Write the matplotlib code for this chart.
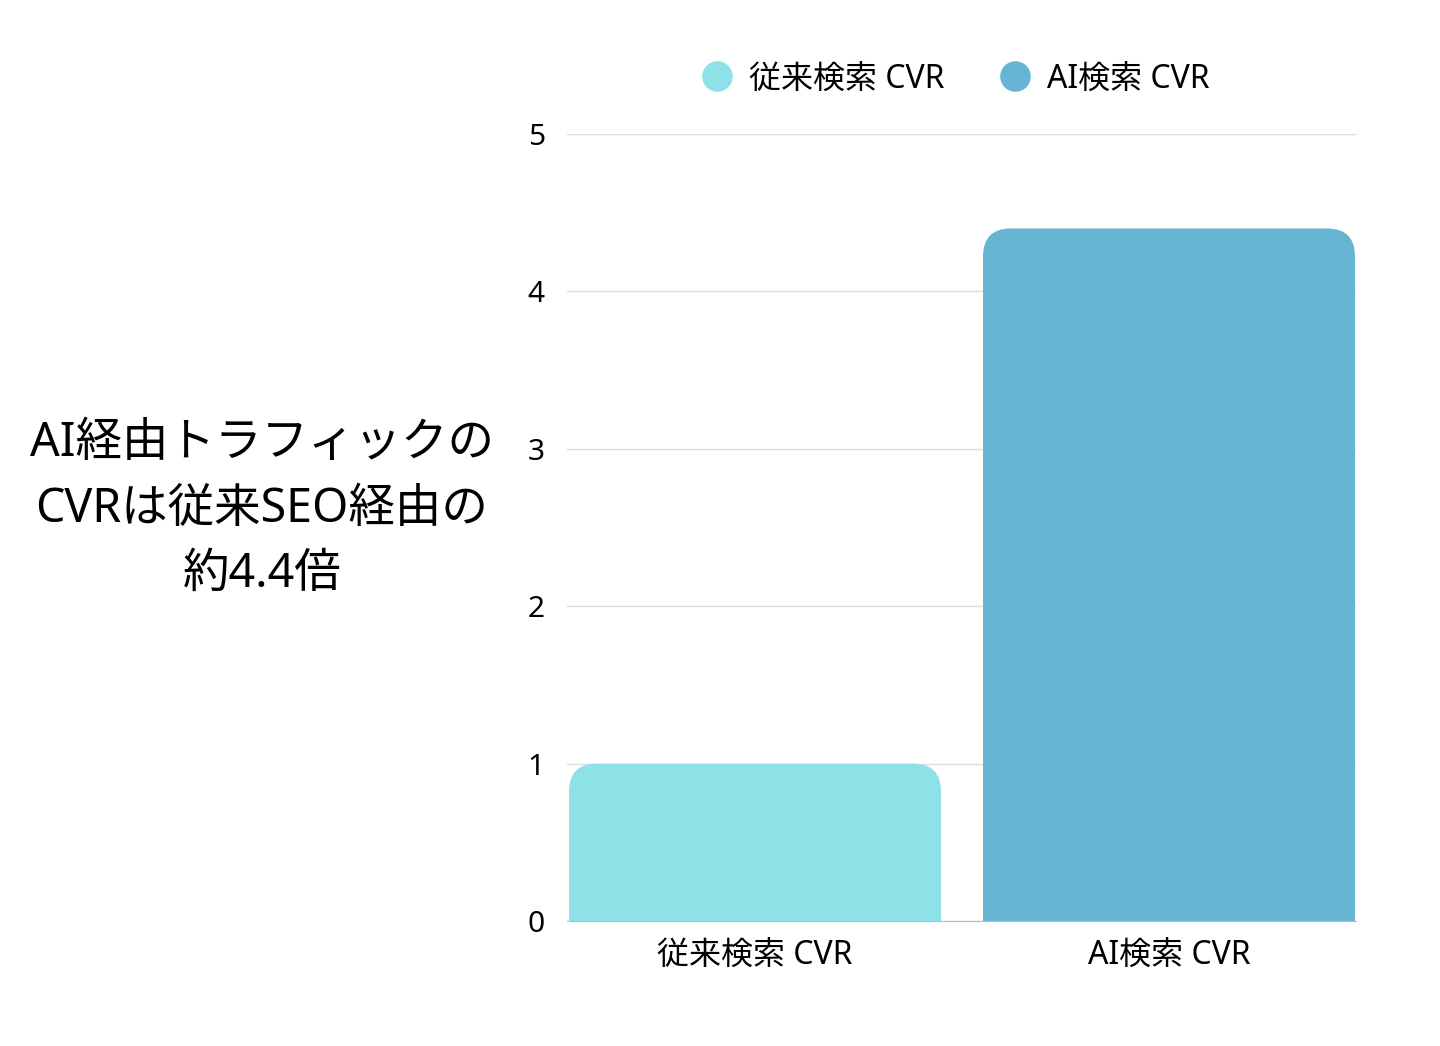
import matplotlib.pyplot as plt
from matplotlib.patches import FancyBboxPatch
from matplotlib.lines import Line2D

plt.rcParams['font.family'] = ['Noto Sans', 'Noto Sans CJK JP', 'DejaVu Sans']

# datos
categorias = ['従来検索 CVR', 'AI検索 CVR']
valores = [1.0, 4.4]
colores = ['#8EE1E6', '#66B5D3']
titulo = 'AI経由トラフィックの\nCVRは従来SEO経由の\n約4.4倍'

fig = plt.figure(figsize=(14.4, 10.46), dpi=100)
ax = fig.add_axes([567/1440, 1-921/1046, (1356-567)/1440, (921-134)/1046])

# separacion entre centros de barras: 414 px
sep = 414.0
ax.set_xlim((567-755)/sep, (1356-755)/sep)
ax.set_ylim(0, 5)

# aspecto px por unidad x / px por unidad y (para las esquinas redondeadas)
px_y = (921-134) / 5.0
aspecto = sep / px_y
radio = 28 / sep
ancho = 372 / sep

for i, (v, c) in enumerate(zip(valores, colores)):
    # la caja arranca debajo de 0 asi las esquinas de abajo quedan cortadas
    y0 = -radio * aspecto * 1.5
    caja = FancyBboxPatch((i - ancho/2, y0), ancho, v - y0,
                          boxstyle='round,pad=0,rounding_size=%f' % radio,
                          mutation_aspect=aspecto, fc=c, ec='none', zorder=3)
    ax.add_patch(caja)

ax.set_yticks(range(0, 6))
ax.set_xticks(range(len(categorias)))
ax.set_xticklabels(categorias, fontsize=23)
ax.tick_params(axis='y', length=0, pad=16, labelsize=21.5)
ax.tick_params(axis='x', length=0, pad=13)
ax.grid(axis='y', color='#dddddd', lw=1, zorder=0)
for s in ['top', 'right', 'left']:
    ax.spines[s].set_visible(False)
ax.spines['bottom'].set_color('#bbbbbb')
ax.spines['bottom'].set_zorder(4)

manejadores = [Line2D([], [], marker='o', ls='', markersize=22, color=c, mec='none')
               for c in colores]
fig.legend(manejadores, categorias, loc='center', ncol=2, frameon=False,
           bbox_to_anchor=(955/1440, 1-79/1046), fontsize=23,
           handlelength=1.0, handletextpad=0.5, columnspacing=1.7)

fig.text(262/1440, 1-509/1046, titulo, ha='center', va='center',
         multialignment='center', fontsize=33.5, linespacing=1.5)

fig.savefig('out.png', dpi=100, facecolor='white')
